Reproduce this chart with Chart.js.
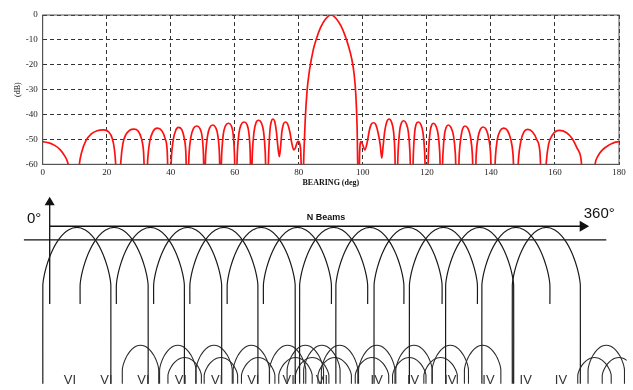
<!DOCTYPE html>
<html>
<head>
<meta charset="utf-8">
<script src="https://cdn.jsdelivr.net/npm/chart.js@4.4.1/dist/chart.umd.min.js"></script>
<style>
  html, body { margin: 0; padding: 0; background: #fff; }
  #wrap { position: relative; width: 633px; height: 390px; overflow: hidden; }
  #cPattern { position: absolute; left: 0; top: 0; }
  #cBeams { position: absolute; left: 0; top: 185px; }
</style>
</head>
<body>
<div id="wrap">
  <canvas id="cPattern" width="633" height="190"></canvas>
  <canvas id="cBeams" width="633" height="205"></canvas>
</div>
<script>
// ---- top plot: beam pattern (dB vs bearing) ----
const bearingDeg = [
  0, 2, 4, 5.5, 6.8, 7.6, 8.1, 8.4,
  11.1, 11.4, 12.2, 13.5, 15.2, 17.0, 19.0, 20.6, 21.7, 22.4, 22.8, 23.0,
  24.1, 24.4, 25.0, 26.0, 27.2, 28.5, 29.8, 30.8, 31.5, 31.9,
  32.5, 32.8, 33.4, 34.4, 35.8, 37.2, 38.2, 38.9, 39.2,
  39.9, 40.2, 40.8, 41.5, 42.4, 43.4, 44.2, 44.7, 45.0,
  45.4, 45.7, 46.3, 47.1, 48.1, 49.1, 49.8, 50.2, 50.4,
  50.6, 50.9, 51.5, 52.2, 53.1, 54.0, 54.7, 55.2, 55.4,
  55.6, 55.9, 56.4, 57.1, 58.0, 58.9, 59.5, 59.9, 60.1,
  60.5, 60.8, 61.3, 62.0, 62.9, 63.8, 64.4, 64.8, 65.0,
  65.2, 65.5, 66.0, 66.6, 67.4, 68.3, 69.0, 69.5, 69.8,
  70.3, 70.6, 71.0, 71.4, 71.9, 72.5, 73.0, 73.5, 73.9, 74.3,
  74.7, 75.2, 75.8, 76.5, 77.2, 77.8, 78.4, 78.9, 79.5, 79.9, 80.3, 80.6, 80.9,
  81.3, 81.6, 82.0, 82.6, 83.3, 84.5, 85.5, 86.8, 88.3, 90.0, 91.7, 93.2, 94.5, 95.5, 96.5, 97.2, 97.8, 98.2, 98.5,
  98.8, 99.0, 99.4, 99.9, 100.6, 101.3, 102.0, 102.6, 103.3, 104.0, 104.7, 105.4, 105.9,
  106.3, 106.8, 107.4, 108.2, 109.0, 109.6, 110.0, 110.2,
  110.7, 111.0, 111.5, 112.0, 112.7, 113.5, 114.2, 114.7, 115.0,
  115.5, 115.8, 116.2, 116.6, 117.3, 118.1, 118.8, 119.3, 119.6,
  120.2, 120.5, 121.0, 121.4, 122.0, 122.8, 123.5, 124.0, 124.3,
  124.7, 125.0, 125.5, 126.0, 126.7, 127.5, 128.3, 128.9, 129.2,
  129.8, 130.1, 130.7, 131.2, 131.9, 132.8, 133.6, 134.2, 134.5,
  135.1, 135.4, 136.0, 136.7, 137.5, 138.5, 139.3, 139.9, 140.2,
  141.1, 141.4, 142.0, 142.9, 144.0, 145.2, 146.2, 146.9, 147.3,
  148.3, 148.6, 149.3, 150.3, 151.5, 153.0, 154.3, 155.3, 155.8,
  157.0, 157.3, 158.0, 159.3, 161.4, 163.5, 165.3, 166.9, 168.1, 168.8,
  172.0, 172.5, 173.5, 175.0, 176.8, 178.5, 180
];
const levelDb = [
  -50.9, -51.4, -52.6, -54.2, -56.5, -58.5, -61, -66,
  -66, -60.5, -55, -50.5, -47.8, -46.5, -46.2, -47.0, -49.5, -54, -60, -66,
  -66, -59, -52, -48, -46.3, -45.9, -46.6, -49.5, -55, -66,
  -66, -58, -51, -47, -45.5, -46.5, -49.5, -55, -66,
  -66, -57, -50, -46.5, -45.2, -46, -49.5, -55, -66,
  -66, -56, -49, -45.6, -44.6, -45.6, -49, -56, -66,
  -66, -56, -48.5, -45.2, -44.2, -45.2, -48.5, -56, -66,
  -66, -56, -48, -44.5, -43.5, -44.5, -48, -56, -66,
  -66, -55, -47.5, -44, -43.0, -44, -47.5, -55, -66,
  -66, -55, -47, -43.4, -42.3, -43.4, -47, -55, -66,
  -66, -55, -46, -42.8, -41.8, -43, -47, -53.5, -56.9, -53,
  -47, -43.8, -43.0, -43.8, -47, -51.5, -54.2, -53.5, -51.2, -50.8, -51.8, -55, -66,
  -66, -55, -42, -30, -22.5, -14, -9.5, -5, -1.7, 0, -1.5, -4.5, -8.5, -12.5, -17.5, -23, -32, -45, -66,
  -66, -55, -50.9, -52, -54.2, -51.5, -46.5, -44, -43.3, -44, -47, -52, -57.5,
  -53, -47, -43.2, -41.8, -43.2, -47, -55, -66,
  -66, -55, -46.5, -43.5, -42.5, -43.5, -47, -55, -66,
  -66, -55, -47, -44, -43.0, -44, -47.5, -55, -66,
  -66, -55, -47, -44.5, -43.5, -44.5, -48, -55, -66,
  -66, -56, -48, -45.2, -44.2, -45.2, -48.5, -56, -66,
  -66, -56, -48.5, -45.6, -44.6, -45.6, -49, -56, -66,
  -66, -56, -49, -46, -45.0, -46, -49.5, -56, -66,
  -66, -57, -50, -46.5, -45.5, -46.5, -50, -56, -66,
  -66, -58, -51, -47, -46.0, -47, -50, -55, -66,
  -66, -59, -52, -48, -46.4, -47.2, -49.5, -53.5, -57.5, -66,
  -66, -60, -56.5, -54, -52.3, -51.3, -50.9
];

// ---- bottom diagram: N beams across 0..360 deg ----
const beamCenterDeg = [18.2, 43.2, 67.5, 92.5, 116.8, 141.8, 166.1, 190.4, 214.7, 240.3, 264.0, 288.3, 312.6, 333.0];
const beamLegLeft  = ['L', 'S', 'S', 'S', 'S', 'S', 'S', 'L', 'L', 'L', 'L', 'L', 'L', 'L'];
const beamLegRight = ['L', 'L', 'L', 'L', 'L', 'L', 'S', 'S', 'S', 'S', 'S', 'L', 'S', 'L'];
const upperLobeDeg = [60.9, 85.9, 110.2, 135.2, 159.5, 171.4, 182.5, 194.4, 219.3, 244.3, 268.6, 290.3, 373.2];
const lowerLobeDeg = [90.5, 114.8, 139.8, 164.8, 176.0, 191.1, 216.1, 241.1, 262.1, 365.3, 381.7];
const sectorMarks   = ['VI', 'VI', 'VI', 'VI', 'VI', 'VI', 'VI', 'VI', 'IV', 'IV', 'IV', 'IV', 'IV', 'IV'];
const sectorMarkDeg = [13.6, 38.0, 62.9, 87.9, 112.2, 136.5, 160.2, 182.5, 219.3, 243.7, 268.6, 294.2, 319.2, 342.8];

// top plot
const plotBox = {
  id: 'plotBox',
  beforeDatasetsDraw(chart) {
    const a = chart.chartArea, c = chart.ctx;
    c.save();
    c.strokeStyle = '#555';
    c.lineWidth = 1;
    c.strokeRect(a.left, a.top, a.right - a.left, a.bottom - a.top);
    c.restore();
  }
};

const serif = '"Liberation Serif", "Times New Roman", serif';
new Chart(document.getElementById('cPattern'), {
  type: 'line',
  data: {
    labels: bearingDeg,
    datasets: [{
      data: bearingDeg.map((b, i) => ({ x: b, y: levelDb[i] })),
      borderColor: '#ff1010',
      borderWidth: 1.7,
      pointRadius: 0,
      cubicInterpolationMode: 'monotone',
      fill: false
    }]
  },
  options: {
    responsive: false,
    animation: false,
    layout: { padding: { top: 15, right: 14, left: 0, bottom: 0 } },
    plugins: { legend: { display: false }, tooltip: { enabled: false } },
    scales: {
      x: {
        type: 'linear', min: 0, max: 180,
        afterFit: s => { s.height = 25.7; },
        ticks: { stepSize: 20, autoSkip: false, maxRotation: 0, padding: 3, color: '#222', font: { family: serif, size: 9 } },
        grid: { color: '#333', lineWidth: 1, drawTicks: false },
        border: { display: true, color: '#555', dash: [4, 3] },
        title: { display: true, text: 'BEARING (deg)', color: '#111', padding: { top: 0, bottom: 2 }, font: { family: serif, size: 8, weight: 'bold' } }
      },
      y: {
        type: 'linear', min: -60, max: 0,
        afterFit: s => { s.width = 42.7; },
        ticks: { stepSize: 10, padding: 5, color: '#222', font: { family: serif, size: 9 } },
        grid: { color: '#333', lineWidth: 1, drawTicks: false },
        border: { display: true, color: '#555', dash: [4, 3] },
        title: { display: true, text: '(dB)', color: '#111', padding: { top: 13, bottom: 0 }, font: { family: serif, size: 8 } }
      }
    }
  },
  plugins: [plotBox]
});

// bottom diagram: arch outline (half), from the leg up to the top
const arcShapeX = [1, 0.985, 0.95, 0.9, 0.82, 0.72, 0.6, 0.45, 0.25, 0];
const arcShapeY = [0, 0.085, 0.196, 0.313, 0.458, 0.6, 0.732, 0.854, 0.956, 1];
function archPoints(cx, hw, base, peak, endL, endR) {
  const pts = [{ x: cx - hw, y: endL }];
  for (let i = 0; i < arcShapeX.length; i++) pts.push({ x: cx - hw * arcShapeX[i], y: base + (peak - base) * arcShapeY[i] });
  for (let i = arcShapeX.length - 2; i >= 0; i--) pts.push({ x: cx + hw * arcShapeX[i], y: base + (peak - base) * arcShapeY[i] });
  pts.push({ x: cx + hw, y: endR });
  return pts;
}
const legEnd = t => (t === 'L' ? -3 : 42.9);

const beamSets = [];
beamCenterDeg.forEach((c, i) => {
  beamSets.push({ data: archPoints(c, 22.8, 53.0, 84.1, legEnd(beamLegLeft[i]), legEnd(beamLegRight[i])), borderColor: '#1a1a1a', borderWidth: 1.2 });
});
upperLobeDeg.forEach(c => {
  beamSets.push({ data: archPoints(c, 12.2, 7.5, 20.7, -3, -3), borderColor: '#2a2a2a', borderWidth: 1.1 });
});
lowerLobeDeg.forEach(c => {
  beamSets.push({ data: archPoints(c, 11.2, 4.5, 14.1, -3, -3), borderColor: '#2a2a2a', borderWidth: 1.1 });
});
// reference line, bearing arrow, vertical axis arrow
beamSets.push({ data: [{ x: -17.3, y: 77.4 }, { x: 373.2, y: 77.4 }], borderColor: '#111', borderWidth: 1.3, tension: 0 });
beamSets.push({
  data: [{ x: 0, y: 84.7 }, { x: 357.5, y: 84.7 }], borderColor: '#111', borderWidth: 1.3, tension: 0,
  pointRadius: [0, 5], pointStyle: 'triangle', pointRotation: 90, pointBackgroundColor: '#111', pointBorderColor: '#111', clip: false
});
beamSets.push({
  data: [{ x: 0, y: 42.9 }, { x: 0, y: 97.5 }], borderColor: '#111', borderWidth: 1.3, tension: 0,
  pointRadius: [0, 4.5], pointStyle: 'triangle', pointRotation: 0, pointBackgroundColor: '#111', pointBorderColor: '#111', clip: false
});

const beamText = {
  id: 'beamText',
  afterDatasetsDraw(chart) {
    const { ctx, scales: { x, y } } = chart;
    ctx.save();
    ctx.fillStyle = '#111';
    ctx.textAlign = 'center';
    ctx.textBaseline = 'middle';
    ctx.font = '15px "Liberation Sans", Arial, sans-serif';
    ctx.fillText('0°', x.getPixelForValue(-10.4), y.getPixelForValue(88.9));
    ctx.fillText('360°', x.getPixelForValue(368.5), y.getPixelForValue(91.2));
    ctx.font = 'bold 9px "Liberation Sans", Arial, sans-serif';
    ctx.fillText('N Beams', x.getPixelForValue(185.3), y.getPixelForValue(89.4));
    ctx.font = '13px "Liberation Sans", Arial, sans-serif';
    ctx.textBaseline = 'top';
    ctx.fillStyle = '#333';
    sectorMarks.forEach((t, i) => ctx.fillText(t, x.getPixelForValue(sectorMarkDeg[i]), y.getPixelForValue(5.0)));
    ctx.restore();
  }
};

new Chart(document.getElementById('cBeams'), {
  type: 'scatter',
  data: { datasets: beamSets.map(d => Object.assign({ showLine: true, pointRadius: 0, tension: 0.3, fill: false }, d)) },
  options: {
    responsive: false,
    animation: false,
    layout: { padding: 0 },
    plugins: { legend: { display: false }, tooltip: { enabled: false } },
    scales: {
      x: { type: 'linear', min: -29.1, max: 386.9, display: false },
      y: { type: 'linear', min: 0, max: 103.5, display: false }
    }
  },
  plugins: [beamText]
});
</script>
</body>
</html>
